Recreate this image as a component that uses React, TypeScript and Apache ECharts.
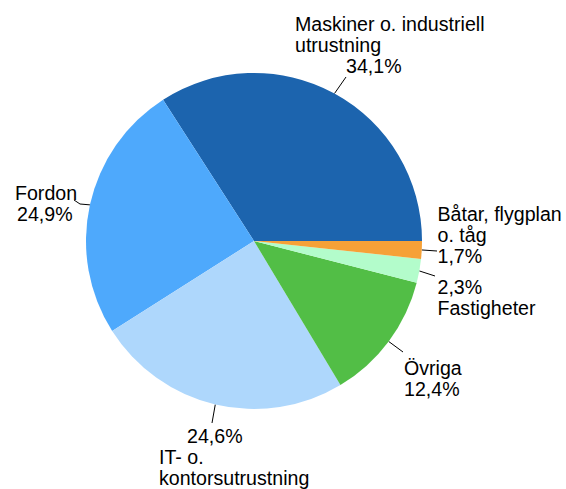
import React, { useEffect, useRef } from "react";
import * as echarts from "echarts";

const categories = [
  "Maskiner o. industriell\nutrustning",
  "Fordon",
  "IT- o.\nkontorsutrustning",
  "Övriga",
  "Fastigheter",
  "Båtar, flygplan\no. tåg",
];
const shares = [34.1, 24.9, 24.6, 12.4, 2.3, 1.7];
const colors = ["#1C64AE", "#4EA9FC", "#AED7FC", "#52BE46", "#B3FCCB", "#F6A137"];

// label placement (layout only)
const labelPlacement = [
  { x: 295, y: 13.5, pctFirst: false, indent: 51, line: [[346, 77]] },
  { x: 15, y: 182.5, pctFirst: false, indent: 2, line: [[80, 204], [74, 200]] },
  { x: 159, y: 425.5, pctFirst: true, indent: 28, line: [[212, 423]] },
  { x: 404, y: 357.5, pctFirst: false, indent: 0, line: [[403, 352]] },
  { x: 437.5, y: 276.5, pctFirst: true, indent: 0, line: [[435, 276]] },
  { x: 437.5, y: 203.5, pctFirst: false, indent: 0, line: [[437, 251]] },
];

const FONT = "'Liberation Sans', Arial, sans-serif";
const FS = 19.6;
const LH = 21;

function fmtPct(v: number) {
  return v.toFixed(1).replace(".", ",") + "%";
}

export default function App() {
  const ref = useRef<HTMLDivElement>(null);
  useEffect(() => {
    if (!ref.current) return;
    const chart = echarts.init(ref.current, undefined, { renderer: "svg" });
    const rich: any = {
      n: { fontFamily: FONT, fontSize: FS, lineHeight: LH, color: "#000" },
    };
    labelPlacement.forEach((L, i) => {
      rich["p" + i] = {
        fontFamily: FONT,
        fontSize: FS,
        lineHeight: LH,
        color: "#000",
        padding: [0, 0, 0, L.indent],
      };
    });
    chart.setOption({
      animation: false,
      backgroundColor: "#fff",
      series: [
        {
          type: "pie",
          center: [254, 241],
          radius: 168,
          startAngle: 0,
          clockwise: false,
          avoidLabelOverlap: false,
          silent: true,
          itemStyle: { borderWidth: 0 },
          data: categories.map((name, i) => ({
            name,
            value: shares[i],
            itemStyle: { color: colors[i] },
          })),
          label: {
            show: true,
            position: "outside",
            fontFamily: FONT,
            fontSize: FS,
            lineHeight: LH,
            color: "#000",
            rich,
            formatter: (p: any) => {
              const i = p.dataIndex;
              const L = labelPlacement[i];
              const nameLines = categories[i]
                .split("\n")
                .map((s) => `{n|${s}}`)
                .join("\n");
              const pct = `{p${i}|${fmtPct(shares[i])}}`;
              return L.pctFirst ? pct + "\n" + nameLines : nameLines + "\n" + pct;
            },
          },
          labelLine: {
            show: true,
            length: 6,
            length2: 6,
            lineStyle: { color: "#000", width: 1 },
          },
          labelLayout: (params: any) => {
            const L = labelPlacement[params.dataIndex];
            const pts = params.labelLinePoints;
            const res: any = {
              x: L.x,
              y: L.y,
              align: "left",
              verticalAlign: "top",
            };
            if (pts && pts.length) {
              res.labelLinePoints = [pts[0], ...L.line];
            }
            return res;
          },
        },
      ],
    });
    return () => chart.dispose();
  }, []);
  return (
    <div
      ref={ref}
      style={{ position: "absolute", left: 0, top: 0, width: 566, height: 489 }}
    />
  );
}
